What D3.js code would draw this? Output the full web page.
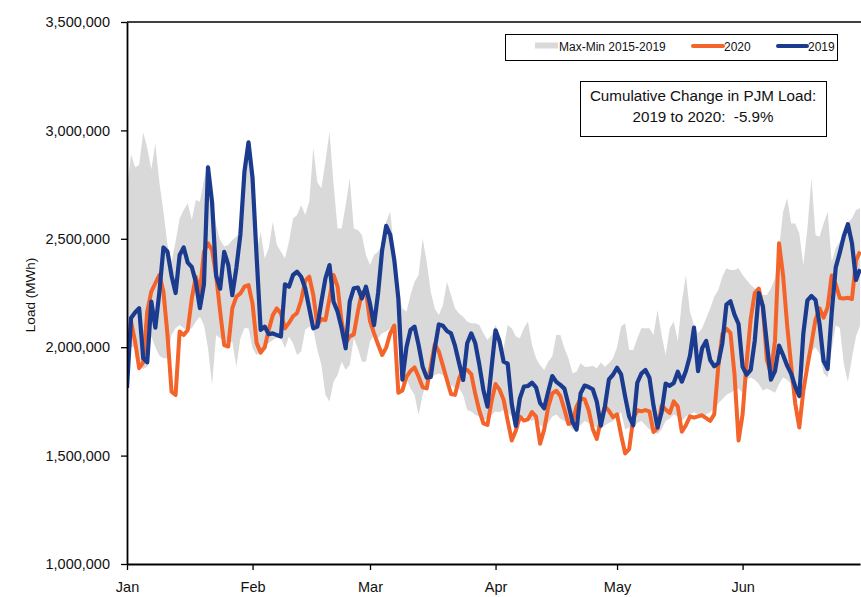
<!DOCTYPE html>
<html>
<head>
<meta charset="utf-8">
<script src="https://cdn.jsdelivr.net/npm/d3@7"></script>
<style>
  html,body{margin:0;padding:0;background:#fff;}
  svg{display:block;font-family:"Liberation Sans",Arial,sans-serif;}
</style>
</head>
<body>
<div id="chart"></div>
<script>
// daily PJM load, thousand MWh, Jan 1 .. Jun 30 (one value per day)
const startDay = new Date(2020, 0, 1);
const yTicks = [1000000, 1500000, 2000000, 2500000, 3000000, 3500000];
const legendLabels = ["Max-Min 2015-2019", "2020", "2019"];
const noteLines = ["Cumulative Change in PJM Load:", "2019 to 2020:  -5.9%"];

const rangeMax = [
  2720,2890,2830,2840,2990,2920,2820,2940,2760,2625,2471,2395,2487,2594,2633,2664,2587,2679,2671,2771,2850,2700,2564,2494,2464,2471,2494,2510,2540,2820,2960,
  2800,2441,2533,2410,2456,2579,2471,2441,2410,2487,2594,2610,2656,2610,2671,2920,2760,2733,2856,2994,2750,2548,2548,2656,2779,2548,2541,2517,2425,
  2379,2425,2441,2471,2579,2625,2441,2256,2179,2164,2241,2302,2333,2502,2394,2256,2179,2148,2195,2302,2241,2179,2156,2141,2118,2110,2110,2102,2064,2033,2056,
  2102,2056,1995,2102,2087,2049,2041,2087,2118,2010,1949,1918,1895,1933,1957,2056,2056,1995,1949,1880,1887,1926,1910,1910,1915,1903,1930,1910,1926,1949,
  2000,2095,2110,1987,1987,2041,2087,2087,2087,2056,2172,2056,1964,2087,2118,2026,2210,2333,2164,2102,2064,2087,2133,2179,2233,2264,2325,2364,2356,2356,2364,
  2333,2310,2287,2272,2260,2241,2241,2272,2318,2456,2625,2687,2571,2571,2525,2379,2548,2779,2517,2510,2571,2625,2394,2456,2487,2517,2575,2594,2633,2641
];
const rangeMin = [
  1800,2000,2000,1920,1900,1910,2050,2000,1960,1949,1949,2056,2087,2102,2087,2079,2087,2118,2141,2102,1995,1826,2056,2041,2026,2018,2026,1910,2041,2087,2087,
  1995,1964,1980,2010,2018,2033,2045,2041,1995,2049,2018,1964,1980,2079,2095,2080,1987,1918,1780,1749,1841,1872,1933,1895,1918,2041,1995,1933,1933,
  2026,2056,2041,2064,2072,2087,2087,2026,1830,1856,1810,1780,1687,1780,1841,1856,1872,1879,1872,1849,1826,1810,1810,1780,1710,1703,1687,1680,1664,1672,1687,
  1703,1700,1710,1700,1680,1620,1660,1680,1670,1660,1670,1640,1630,1650,1680,1690,1670,1660,1640,1620,1610,1640,1660,1650,1640,1630,1620,1640,1650,1660,
  1680,1700,1620,1630,1630,1650,1660,1640,1620,1610,1600,1620,1660,1670,1690,1680,1660,1680,1690,1700,1690,1680,1690,1700,1720,1740,1760,1780,1790,1800,1810,
  1790,1850,1860,1850,1830,1800,1810,1800,1790,1830,1860,1850,1830,1790,1760,1880,1950,1980,2000,1970,1880,1860,1990,2100,2090,1920,1840,1950,2050,2100
];
const load2020 = [
  1933,2118,2026,1903,1930,2164,2256,2295,2333,2256,2056,1795,1780,2072,2056,2079,2225,2325,2256,2441,2479,2448,2333,2164,2010,2003,2179,2233,2248,2279,2287,
  2200,2020,1975,2000,2080,2148,2179,2156,2087,2112,2143,2158,2216,2307,2325,2241,2102,2130,2125,2225,2333,2279,2118,2018,2050,2059,2164,2253,2259,
  2120,2064,2012,1964,1998,2064,2100,1790,1800,1864,1890,1907,1864,1815,1810,1910,2013,1980,1915,1849,1784,1780,1856,1895,1895,1876,1784,1707,1649,1641,1749,
  1830,1804,1757,1660,1570,1615,1680,1662,1667,1701,1680,1555,1620,1723,1787,1799,1775,1713,1646,1653,1726,1763,1760,1709,1623,1577,1664,1726,1706,1677,
  1690,1595,1510,1530,1672,1709,1704,1710,1704,1609,1626,1730,1713,1696,1750,1726,1610,1640,1681,1675,1681,1686,1673,1660,1690,1912,2061,2085,2066,1875,1570,
  1690,1933,2130,2250,2270,2184,1941,1879,2030,2480,2330,2102,1912,1740,1630,1799,1913,2016,2127,2179,2136,2184,2331,2290,2227,2225,2228,2222,2400,2441
];
const load2019 = [
  1812,2135,2160,2180,1950,1930,2210,2090,2255,2460,2440,2330,2250,2425,2460,2390,2370,2300,2180,2290,2830,2670,2330,2270,2440,2380,2240,2365,2520,2810,2945,
  2780,2420,2080,2095,2060,2064,2056,2049,2290,2279,2333,2348,2325,2272,2179,2087,2095,2210,2318,2379,2210,2164,2087,1995,2210,2272,2275,2225,2279,
  2200,2102,2250,2448,2560,2518,2402,2225,1850,2000,2080,2095,2010,1910,1860,1863,1995,2105,2099,2075,2064,2006,1926,1849,2018,2064,2018,1918,1803,1726,1903,
  2078,2026,1933,1924,1738,1637,1764,1818,1821,1836,1815,1743,1718,1795,1867,1840,1826,1809,1735,1655,1620,1787,1823,1816,1806,1749,1638,1726,1852,1873,
  1905,1875,1772,1680,1640,1836,1878,1895,1859,1730,1630,1700,1832,1822,1835,1887,1841,1890,1960,2090,1890,1995,2029,1941,1912,1927,2018,2196,2212,2150,2107,
  1910,1873,1895,2030,2250,2190,2016,1850,1890,2007,1964,1915,1877,1818,1775,2064,2216,2236,2218,2107,1936,1900,2159,2368,2436,2513,2567,2480,2310,2360
];

const colors = {band:"#d9d9d9", y2020:"#f4632a", y2019:"#1b3b8f"};
const W = 861, H = 597;
const m = {top:22, left:127, bottom:564};
const days = load2019.map((_, i) => d3.timeDay.offset(startDay, i));

const svg = d3.select("#chart").append("svg").attr("width", W).attr("height", H);
svg.append("rect").attr("width", W).attr("height", H).attr("fill", "#fff");

const x = d3.scaleTime().domain([days[0], days[days.length - 1]]).range([m.left, m.left + 181 * 4.05]);
const y = d3.scaleLinear().domain([1000000, 3500000]).range([m.bottom, m.top]);

svg.append("clipPath").attr("id", "plot").append("rect")
  .attr("x", m.left).attr("y", m.top).attr("width", W - m.left).attr("height", m.bottom - m.top);
const plot = svg.append("g").attr("clip-path", "url(#plot)");

const rows = days.map((d, i) => ({d, hi: rangeMax[i] * 1000, lo: rangeMin[i] * 1000,
  v20: load2020[i] * 1000, v19: load2019[i] * 1000}));

plot.append("path").datum(rows).attr("fill", colors.band)
  .attr("d", d3.area().x(r => x(r.d)).y0(r => y(r.lo)).y1(r => y(r.hi)));
plot.append("path").datum(rows).attr("fill", "none").attr("stroke", colors.y2020)
  .attr("stroke-width", 4).attr("stroke-linejoin", "round")
  .attr("d", d3.line().x(r => x(r.d)).y(r => y(r.v20)));
plot.append("path").datum(rows).attr("fill", "none").attr("stroke", colors.y2019)
  .attr("stroke-width", 4.2).attr("stroke-linejoin", "round")
  .attr("d", d3.line().x(r => x(r.d)).y(r => y(r.v19)));

// frame: top border runs off the right edge
svg.append("line").attr("x1", m.left).attr("x2", W).attr("y1", m.top).attr("y2", m.top)
  .attr("stroke", "#000").attr("stroke-width", 1.5);

const yAxis = svg.append("g").attr("transform", `translate(${m.left},0)`)
  .call(d3.axisLeft(y).tickValues(yTicks).tickFormat(d3.format(",")).tickSize(6).tickSizeOuter(0).tickPadding(11));
const xAxis = svg.append("g").attr("transform", `translate(0,${m.bottom})`)
  .call(d3.axisBottom(x).ticks(d3.timeMonth.every(1)).tickFormat(d3.timeFormat("%b")).tickSize(6).tickSizeOuter(0).tickPadding(12));
[yAxis, xAxis].forEach(a => {
  a.select(".domain").attr("stroke", "#000").attr("stroke-width", 1.8);
  a.selectAll(".tick line").attr("stroke", "#000").attr("stroke-width", 1.3);
  a.selectAll("text").attr("fill", "#111").attr("font-size", 14.5)
    .attr("font-family", "'Liberation Sans',Arial,sans-serif");
});

svg.append("text").attr("transform", "translate(35,295) rotate(-90)")
  .attr("text-anchor", "middle").attr("font-size", 13.5).attr("fill", "#111").text("Load (MWh)");

// legend
const lg = svg.append("g");
lg.append("rect").attr("x", 505.5).attr("y", 34.5).attr("width", 332).attr("height", 26)
  .attr("fill", "#fff").attr("stroke", "#000").attr("stroke-width", 1);
lg.append("rect").attr("x", 535).attr("y", 42.5).attr("width", 23).attr("height", 6).attr("fill", colors.band);
lg.append("line").attr("x1", 693).attr("x2", 723).attr("y1", 46).attr("y2", 46)
  .attr("stroke", colors.y2020).attr("stroke-width", 4).attr("stroke-linecap", "round");
lg.append("line").attr("x1", 778).attr("x2", 807).attr("y1", 46).attr("y2", 46)
  .attr("stroke", colors.y2019).attr("stroke-width", 4).attr("stroke-linecap", "round");
[[559, legendLabels[0]], [724, legendLabels[1]], [808, legendLabels[2]]].forEach(([lx, t]) =>
  lg.append("text").attr("x", lx).attr("y", 50.5).attr("font-size", 12).attr("fill", "#111").text(t));

// note box
const nb = svg.append("g");
nb.append("rect").attr("x", 580.5).attr("y", 81.5).attr("width", 246).attr("height", 55)
  .attr("fill", "#fff").attr("stroke", "#000").attr("stroke-width", 1);
noteLines.forEach((t, i) =>
  nb.append("text").attr("x", 703).attr("y", 101 + i * 20.5).attr("text-anchor", "middle")
    .attr("font-size", 15.2).attr("fill", "#111").attr("xml:space", "preserve").style("white-space", "pre").text(t));
</script>
</body>
</html>
